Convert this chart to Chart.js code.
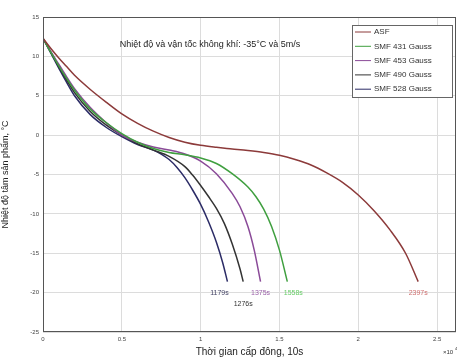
<!DOCTYPE html>
<html>
<head>
<meta charset="utf-8">
<script src="https://cdn.jsdelivr.net/npm/chart.js@4.4.1/dist/chart.umd.min.js"></script>
<style>
  html, body { margin: 0; padding: 0; background: #fff; overflow: hidden; }
  #wrap { width: 457px; height: 360px; }
</style>
</head>
<body>
<div id="wrap"><canvas id="myChart" width="457" height="360"></canvas></div>
<script>
// series names, colours and end labels
const seriesNames = ['ASF', 'SMF 431 Gauss', 'SMF 453 Gauss', 'SMF 490 Gauss', 'SMF 528 Gauss'];
const seriesColors = ['#8c3a3a', '#3f9f3f', '#8a4a98', '#333333', '#2b2b66'];
const endLabels = ['2397s', '1558s', '1375s', '1276s', '1179s'];
const endLabelColors = ['#d07070', '#66cc66', '#9a60a8', '#333333', '#444466'];

// time (x10^4) and temperature (°C)
const asfX = [0, 0.05, 0.1, 0.15, 0.2, 0.3, 0.4, 0.5, 0.6, 0.7, 0.8, 0.9, 1.0, 1.1, 1.2, 1.3, 1.4, 1.5, 1.6, 1.7, 1.8, 1.9, 2.0, 2.1, 2.2, 2.3, 2.38];
const asfY = [12.3, 11.0, 9.8, 8.7, 7.6, 5.8, 4.2, 2.7, 1.5, 0.5, -0.3, -0.9, -1.3, -1.55, -1.75, -1.95, -2.2, -2.55, -3.1, -3.8, -4.8, -6.0, -7.6, -9.6, -12.0, -15.0, -18.6];

const smf431X = [0, 0.05, 0.1, 0.15, 0.2, 0.3, 0.4, 0.5, 0.6, 0.7, 0.8, 0.9, 1.0, 1.1, 1.2, 1.3, 1.35, 1.4, 1.45, 1.5, 1.55];
const smf431Y = [12.3, 10.5, 8.8, 7.2, 5.7, 3.3, 1.6, 0.2, -0.9, -1.7, -2.2, -2.5, -2.9, -3.6, -4.9, -6.6, -7.8, -9.4, -11.6, -14.6, -18.6];

const smf453X = [0, 0.05, 0.1, 0.15, 0.2, 0.3, 0.4, 0.5, 0.6, 0.7, 0.8, 0.9, 1.0, 1.1, 1.2, 1.25, 1.3, 1.34, 1.38];
const smf453Y = [12.3, 10.6, 9.0, 7.4, 5.9, 3.5, 1.6, 0.0, -0.9, -1.5, -1.9, -2.4, -3.3, -4.9, -7.4, -9.1, -11.6, -14.6, -18.6];

const smf490X = [0, 0.05, 0.1, 0.15, 0.2, 0.3, 0.4, 0.5, 0.6, 0.7, 0.8, 0.9, 0.95, 1.0, 1.05, 1.1, 1.15, 1.2, 1.25, 1.27];
const smf490Y = [12.3, 10.5, 8.7, 7.0, 5.4, 3.0, 1.3, 0.0, -1.1, -1.9, -2.7, -4.0, -5.1, -6.4, -7.8, -9.3, -11.2, -13.8, -17.0, -18.6];

const smf528X = [0, 0.05, 0.1, 0.15, 0.2, 0.3, 0.4, 0.5, 0.6, 0.7, 0.75, 0.8, 0.85, 0.9, 0.95, 1.0, 1.05, 1.1, 1.14, 1.17];
const smf528Y = [12.3, 10.4, 8.5, 6.7, 5.0, 2.6, 1.0, -0.2, -1.2, -1.9, -2.4, -3.1, -4.1, -5.4, -7.0, -8.8, -11.0, -13.6, -16.2, -18.6];

const xTicks = [0, 0.5, 1, 1.5, 2, 2.5];
const yTicks = [15, 10, 5, 0, -5, -10, -15, -20, -25];

const seriesX = [asfX, smf431X, smf453X, smf490X, smf528X];
const seriesY = [asfY, smf431Y, smf453Y, smf490Y, smf528Y];

const FONT = 'Liberation Sans, Arial, sans-serif';

function pts(xs, ys) {
  return xs.map((x, i) => ({ x: x, y: ys[i] }));
}

const datasets = seriesNames.map((name, i) => ({
  label: name,
  data: pts(seriesX[i], seriesY[i]),
  borderColor: seriesColors[i],
  borderWidth: 1.5,
  pointRadius: 0,
  cubicInterpolationMode: 'monotone',
  fill: false,
}));

// frame, in-plot title, legend box, end labels
const extras = {
  id: 'extras',
  afterDraw(chart) {
    const ctx = chart.ctx;
    const a = chart.chartArea;
    const xs = chart.scales.x, ys = chart.scales.y;
    ctx.save();
    // frame
    ctx.strokeStyle = '#555';
    ctx.lineWidth = 1;
    ctx.strokeRect(a.left + 0.5, a.top + 0.5, a.right - a.left - 1, a.bottom - a.top - 1);

    // title inside plot
    ctx.fillStyle = '#222';
    ctx.font = '9px ' + FONT;
    ctx.textAlign = 'center';
    ctx.textBaseline = 'middle';
    ctx.fillText('Nhiệt độ và vận tốc không khí: -35°C và 5m/s', 210, 45);

    // end labels
    ctx.font = '7px ' + FONT;
    chart.data.datasets.forEach((ds, i) => {
      const last = ds.data[ds.data.length - 1];
      let px = xs.getPixelForValue(last.x);
      let py = ys.getPixelForValue(-20);
      if (i === 3) py = ys.getPixelForValue(-21.4);
      if (i === 4) px -= 8;
      if (i === 1) px += 6;
      ctx.fillStyle = endLabelColors[i];
      ctx.fillText(endLabels[i], px, py);
    });

    // legend
    const lx = 352, ly = 25, lw = 100, lh = 72;
    ctx.fillStyle = '#fff';
    ctx.fillRect(lx, ly, lw, lh);
    ctx.strokeStyle = '#666';
    ctx.strokeRect(lx + 0.5, ly + 0.5, lw, lh);
    ctx.font = '8px ' + FONT;
    ctx.textAlign = 'left';
    chart.data.datasets.forEach((ds, i) => {
      const y = ly + 7 + i * 14.3;
      ctx.strokeStyle = ds.borderColor;
      ctx.lineWidth = 1;
      ctx.beginPath();
      ctx.moveTo(lx + 3, y);
      ctx.lineTo(lx + 19, y);
      ctx.stroke();
      ctx.fillStyle = '#333';
      ctx.fillText(ds.label, lx + 22, y);
    });

    // exponent
    ctx.font = '6px ' + FONT;
    ctx.fillStyle = '#333';
    ctx.fillText('×10', 443, 352);
    ctx.font = '4px ' + FONT;
    ctx.fillText('4', 455, 349);
    ctx.restore();
  }
};

const ctx = document.getElementById('myChart');

new Chart(ctx, {
  type: 'line',
  data: { datasets: datasets },
  plugins: [extras],
  options: {
    responsive: false,
    animation: false,
    layout: { padding: { top: 17, right: 1, bottom: 2, left: 0 } },
    plugins: {
      legend: { display: false },
      tooltip: { enabled: false },
    },
    scales: {
      x: {
        type: 'linear',
        min: 0,
        max: 2.62,
        afterBuildTicks: s => { s.ticks = xTicks.map(v => ({ value: v })); },
        afterFit: s => { s.height = 26; },
        grid: { color: '#dcdcdc', drawTicks: false },
        border: { display: false },
        ticks: {
          padding: 4,
          color: '#444',
          font: { size: 6, family: FONT },
          maxRotation: 0,
          callback: v => String(v),
        },
        title: {
          display: true,
          text: 'Thời gian cấp đông, 10s',
          color: '#222',
          font: { size: 10, family: FONT },
          padding: { top: 0, bottom: 0 },
        },
      },
      y: {
        min: -25,
        max: 15,
        afterBuildTicks: s => { s.ticks = yTicks.map(v => ({ value: v })); },
        afterFit: s => { s.width = 43; },
        grid: { color: '#dcdcdc', drawTicks: false },
        border: { display: false },
        ticks: {
          padding: 4,
          color: '#444',
          font: { size: 6, family: FONT },
        },
        title: {
          display: true,
          text: 'Nhiệt độ tâm sản phẩm, °C',
          color: '#222',
          font: { size: 9, family: FONT },
          padding: { top: 0, bottom: 0 },
        },
      },
    },
  },
});
</script>
</body>
</html>
